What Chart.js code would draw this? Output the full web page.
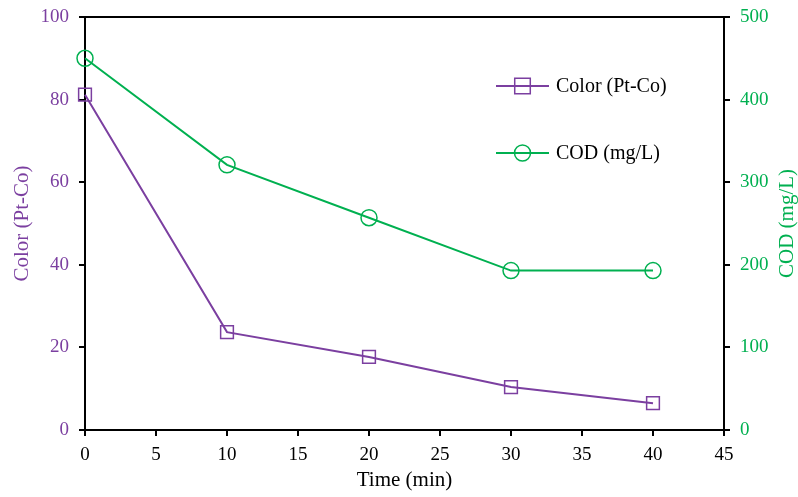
<!DOCTYPE html>
<html>
<head>
<meta charset="utf-8">
<script src="https://cdn.jsdelivr.net/npm/chart.js@4"></script>
<style>
  html, body { margin: 0; padding: 0; background: #fff; }
  #wrap { width: 798px; height: 497px; }
</style>
</head>
<body>
<div id="wrap"><canvas id="chart"></canvas></div>
<script>
// time points and measured values
const times = [0, 10, 20, 30, 40];
const colorValues = [81.2, 23.7, 17.7, 10.4, 6.5];
const codValues = [450, 321, 257, 193, 193];
const xTicks = [0, 5, 10, 15, 20, 25, 30, 35, 40, 45];

const purple = '#7B3FA0';
const green = '#00B050';
const serif = "'Liberation Serif', 'Times New Roman', serif";

// frame top edge, vertical axis titles (both read bottom-to-top) and in-plot legend
const framePlugin = {
  id: 'frame',
  afterDraw(chart) {
    const { ctx, chartArea: a } = chart;
    ctx.save();
    ctx.strokeStyle = '#000';
    ctx.lineWidth = 2;
    ctx.beginPath();
    ctx.moveTo(a.left - 1, a.top);
    ctx.lineTo(a.right + 1, a.top);
    ctx.stroke();

    const midY = (a.top + a.bottom) / 2;
    ctx.font = '21px ' + serif;
    ctx.textAlign = 'center';
    ctx.textBaseline = 'middle';
    [[22, 'Color (Pt-Co)', purple], [787, 'COD (mg/L)', green]].forEach(([x, txt, col]) => {
      ctx.save();
      ctx.translate(x, midY);
      ctx.rotate(-Math.PI / 2);
      ctx.fillStyle = col;
      ctx.fillText(txt, 0, 0);
      ctx.restore();
    });

    const items = chart.data.datasets;
    const x0 = 496, x1 = 549, tx = 556;
    const ys = [86, 153];
    ctx.font = '20px ' + serif;
    ctx.textAlign = 'left';
    items.forEach((ds, i) => {
      const y = ys[i];
      ctx.strokeStyle = ds.borderColor;
      ctx.fillStyle = 'rgba(0,0,0,0)';
      ctx.lineWidth = 2;
      ctx.beginPath();
      ctx.moveTo(x0, y);
      ctx.lineTo(x1, y);
      ctx.stroke();
      ctx.lineWidth = 1.5;
      Chart.helpers.drawPoint(ctx, {
        pointStyle: ds.pointStyle,
        radius: ds.pointStyle === 'rect' ? 11 : 8,
        borderWidth: 1.5
      }, (x0 + x1) / 2, y);
      ctx.fillStyle = '#000';
      ctx.fillText(ds.label, tx, y + 1);
    });
    ctx.restore();
  }
};

const tickFont = { family: serif, size: 19 };
const titleFont = { family: serif, size: 21 };

// y axes: fixed width and no extra room reserved for the end labels
const fitY = w => s => {
  s.width = w;
  s.paddingTop = 0;
  s.paddingBottom = 0;
};

new Chart(document.getElementById('chart'), {
  type: 'line',
  data: {
    datasets: [
      {
        label: 'Color (Pt-Co)',
        data: times.map((t, i) => ({ x: t, y: colorValues[i] })),
        yAxisID: 'y',
        borderColor: purple,
        backgroundColor: 'rgba(0,0,0,0)',
        borderWidth: 2,
        pointStyle: 'rect',
        pointRadius: 9,
        pointBorderWidth: 1.5,
        clip: false
      },
      {
        label: 'COD (mg/L)',
        data: times.map((t, i) => ({ x: t, y: codValues[i] })),
        yAxisID: 'y1',
        borderColor: green,
        backgroundColor: 'rgba(0,0,0,0)',
        borderWidth: 2,
        pointStyle: 'circle',
        pointRadius: 8,
        pointBorderWidth: 1.5,
        clip: false
      }
    ]
  },
  options: {
    responsive: true,
    maintainAspectRatio: false,
    animation: false,
    layout: { padding: { top: 17, left: 0, right: 0, bottom: 0 } },
    plugins: {
      legend: { display: false },
      tooltip: { enabled: false }
    },
    scales: {
      x: {
        type: 'linear',
        min: 0,
        max: 45,
        afterBuildTicks: s => { s.ticks = xTicks.map(v => ({ value: v })); },
        afterFit: s => { s.height = 67; },
        grid: { drawOnChartArea: false, color: '#000', lineWidth: 2, tickLength: 6 },
        border: { color: '#000', width: 2 },
        ticks: { color: '#000', font: tickFont, padding: 8, maxRotation: 0 },
        title: { display: true, text: 'Time (min)', color: '#000', font: titleFont, padding: { top: 0 } }
      },
      y: {
        position: 'left',
        min: 0,
        max: 100,
        afterFit: fitY(85),
        grid: { drawOnChartArea: false, color: '#000', lineWidth: 2, tickLength: 6 },
        border: { color: '#000', width: 2 },
        ticks: { stepSize: 20, color: purple, font: tickFont, padding: 10 }
      },
      y1: {
        position: 'right',
        min: 0,
        max: 500,
        afterFit: fitY(74),
        grid: { drawOnChartArea: false, color: '#000', lineWidth: 2, tickLength: 6 },
        border: { color: '#000', width: 2 },
        ticks: { stepSize: 100, color: green, font: tickFont, padding: 10 }
      }
    }
  },
  plugins: [framePlugin]
});
</script>
</body>
</html>
